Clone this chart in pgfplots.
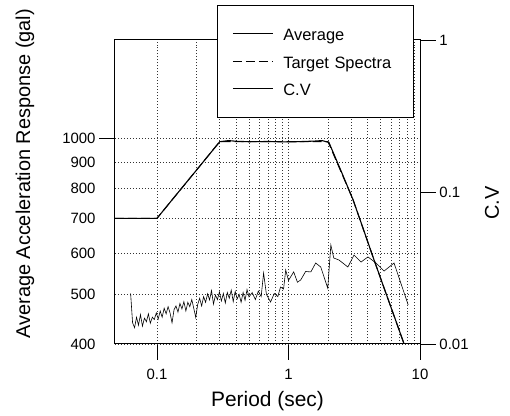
\documentclass[border=0pt]{standalone}
\usepackage{pgfplots}
\pgfplotsset{compat=1.18}
\usepackage{fontspec}
\setmainfont{Liberation Sans}
\begin{document}
\begin{tikzpicture}
\begin{axis}[
  width=305bp, height=304bp, scale only axis,
  xmode=log, xmin=0.048, xmax=10,
  /pgf/number format/assume math mode=true,
  tick align=outside,
  major tick length=16bp,
  minor tick length=0pt,
  tick style={black, line width=0.8pt},
  ticklabel style={font=\fontsize{15}{15}\selectfont},
  axis line style={line width=1pt},
  label style={font=\fontsize{20}{20}\selectfont},
  ymode=log, ymin=400, ymax=1550,
  xtick={0.1,1,10}, xticklabels={0.1,1,10},
  xtick pos=lower, ytick pos=left,
  xticklabel style={yshift=-6bp},
  ytick={1000}, yticklabels={1000},
  extra y ticks={400,500,600,700,800,900},
  extra y tick labels={400,500,600,700,800,900},
  extra y tick style={tick style={draw=none}, grid=major},
  xmajorgrids, xminorgrids, ymajorgrids,
  grid style={black!80, line width=0.6pt, dash pattern=on 0.6pt off 2.4pt},
  xlabel={Period (sec)},
  ylabel={Average Acceleration Response (gal)},
  xlabel style={at={(axis description cs:0.5,-0.1875)}, anchor=center, font=\fontsize{21}{21}\selectfont},
  ylabel style={at={(axis description cs:-0.295,0.56)}, anchor=center},
  legend cell align=left,
  legend image code/.code={\draw[#1] (0bp,0bp) -- (40bp,0bp);},
  legend style={at={(axis description cs:0.334,1.115)}, anchor=north west,
    draw=black, line width=0.8pt, fill=white,
    font=\fontsize{16.5}{16.5}\selectfont,
    inner xsep=15bp, inner ysep=21bp, row sep=13bp,
    nodes={inner sep=0pt, text height=14.5bp, text depth=0pt},
    /tikz/every odd column/.append style={column sep=10bp},
    /tikz/every even column/.append style={text width=115bp}},
]
\addplot[black, line width=1.1pt] coordinates {
(0.048,700) (0.1,700) (0.133,765) (0.2,868) (0.3,985) (0.35,990) (0.4,987)
(0.5,985) (0.7,986) (1.0,984) (1.3,986) (1.6,988) (1.8,990) (2.03,982)
(2.5,867) (3.09,762) (3.6,682) (4.47,582) (5.5,502) (6.5,446) (7.57,400) (8.0,386)};
\addlegendentry{Average}
\addplot[black, line width=1pt, dash pattern=on 9bp off 4bp] coordinates {
(0.048,700) (0.1,700) (0.3,985) (2.0,985) (3.09,762) (4.47,582) (7.57,400) (8.0,386)};
\addlegendentry{Target Spectra}
\addlegendimage{black, line width=0.6pt}
\addlegendentry{C.V}
\end{axis}
\begin{axis}[
  width=305bp, height=304bp, scale only axis,
  xmode=log, xmin=0.048, xmax=10,
  /pgf/number format/assume math mode=true,
  tick align=outside,
  major tick length=16bp,
  minor tick length=0pt,
  tick style={black, line width=0.8pt},
  ticklabel style={font=\fontsize{15}{15}\selectfont},
  axis line style={line width=1pt},
  label style={font=\fontsize{20}{20}\selectfont},
  ymode=log, ymin=0.01, ymax=1,
  axis x line=none, axis y line*=right,
  ytick={0.01,0.1,1}, yticklabels={0.01,0.1,1},
  ylabel={C.V},
  ylabel style={at={(axis description cs:1.236,0.464)}, anchor=center},
]
\addplot[black, line width=0.6pt] coordinates {
(0.0631,0.0215) (0.0653,0.0138) (0.0676,0.0128) (0.0700,0.0150) (0.0724,0.0133)
(0.0750,0.0156) (0.0776,0.0131) (0.0804,0.0148) (0.0832,0.0140) (0.0861,0.0158)
(0.0891,0.0137) (0.0923,0.0150) (0.0955,0.0145) (0.0989,0.0160) (0.1023,0.0146)
(0.1059,0.0165) (0.1096,0.0150) (0.1135,0.0172) (0.1175,0.0158) (0.1216,0.0176)
(0.1259,0.0160) (0.1303,0.0138) (0.1349,0.0168) (0.1396,0.0178) (0.1445,0.0162)
(0.1496,0.0185) (0.1549,0.0170) (0.1603,0.0190) (0.1660,0.0165) (0.1718,0.0188)
(0.1778,0.0176) (0.1841,0.0196) (0.1905,0.0172) (0.1972,0.0150) (0.2042,0.0182)
(0.2113,0.0200) (0.2188,0.0178) (0.2265,0.0205) (0.2344,0.0188) (0.2427,0.0214)
(0.2512,0.0195) (0.2600,0.0225) (0.2692,0.0183) (0.2786,0.0210) (0.2884,0.0196)
(0.2985,0.0220) (0.3090,0.0192) (0.3199,0.0215) (0.3311,0.0186) (0.3428,0.0218)
(0.3548,0.0200) (0.3673,0.0226) (0.3802,0.0190) (0.3936,0.0222) (0.4074,0.0198)
(0.4217,0.0212) (0.4365,0.0188) (0.4519,0.0218) (0.4677,0.0194) (0.4842,0.0228)
(0.5012,0.0204) (0.53,0.0218) (0.56,0.0196) (0.59,0.0223) (0.62,0.0205)
(0.647,0.0293) (0.68,0.0212) (0.731,0.0189) (0.78,0.0215) (0.83,0.0205)
(0.87,0.0237) (0.918,0.0230) (0.953,0.0307) (1.0,0.0262) (1.096,0.0298)
(1.17,0.0255) (1.24,0.0264) (1.35,0.0300) (1.48,0.0298) (1.61,0.0341)
(1.76,0.0321) (1.99,0.0233) (2.10,0.0448) (2.21,0.0368) (2.42,0.0357)
(2.83,0.0321) (3.15,0.0385) (3.56,0.0346) (4.02,0.0374) (4.63,0.0341)
(5.33,0.0302) (6.35,0.0341) (8.13,0.0181)};
\end{axis}
\pgfresetboundingbox
\useasboundingbox (-115bp,-72bp) rectangle (395bp,344bp);
\end{tikzpicture}
\end{document}
